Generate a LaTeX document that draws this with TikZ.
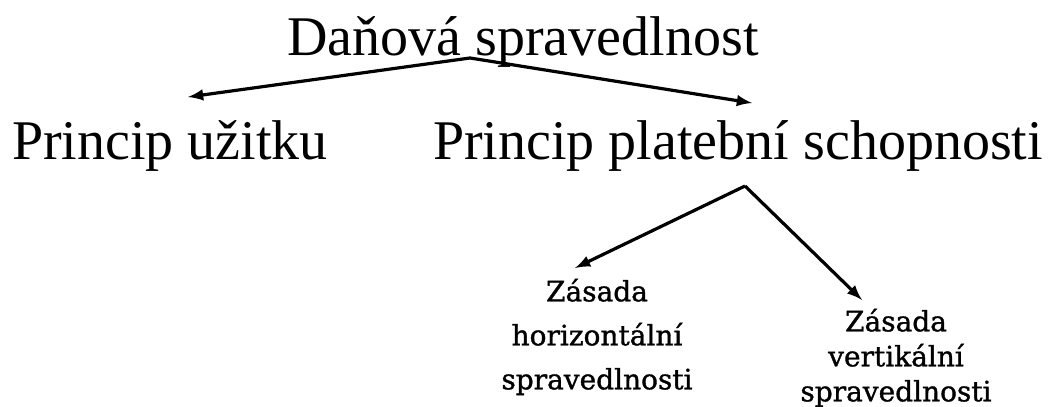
\documentclass[tikz,border=0pt]{standalone}
\usepackage{fontspec}
\setmainfont{Liberation Serif}
\newfontfamily\lowfont[FakeBold=1.2]{DejaVu Serif}
\usetikzlibrary{calc}

\begin{document}
\begin{tikzpicture}[x=0.5pt,y=-0.5pt]
\useasboundingbox (0,0) rectangle (1052,406);
\tikzset{
  big/.style={font=\fontsize{28}{30}\selectfont, inner sep=0pt},
  small/.style={font=\lowfont\fontsize{14}{18}\selectfont, align=center, inner sep=0pt},
  arr/.style={-latex, line width=1.6pt}
}
\node[big] (dan) at (523,42) {Daňová spravedlnost};
\node[big] (uzitek) at (170,146) {Princip užitku};
\node[big] (platba) at (738,146) {Princip platební schopnosti};
\node[small, font=\lowfont\fontsize{14}{22}\selectfont] (horiz) at (597,337) {Zásada\\horizontální\\spravedlnosti};
\node[small, font=\lowfont\fontsize{14}{17.5}\selectfont] (vert) at (896,358) {Zásada\\vertikální\\spravedlnosti};

\coordinate (A) at (470,58);
\coordinate (A1) at (188,97);
\coordinate (A2) at (752,103);
\coordinate (B) at (745,186);
\coordinate (B1) at (575,268);
\coordinate (B2) at (862,300);

\draw [arr] (A) -- (A1);
\draw [arr] (A) -- (A2);
\draw [arr] (B) -- (B1);
\draw [arr] (B) -- (B2);

\end{tikzpicture}
\end{document}
